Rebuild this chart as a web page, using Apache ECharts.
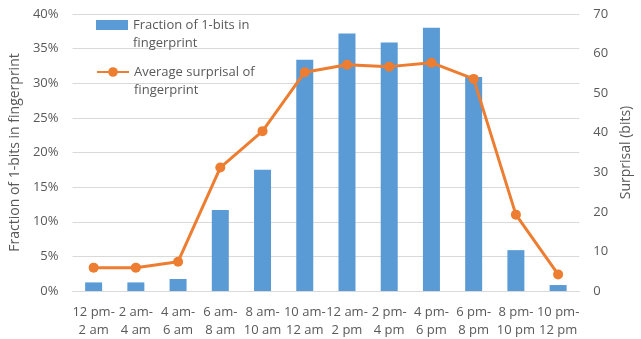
<!DOCTYPE html>
<html><head><meta charset="utf-8">
<script src="https://cdn.jsdelivr.net/npm/echarts@6/dist/echarts.min.js"></script>
<style>html,body{margin:0;padding:0;background:#fff}#c{width:641px;height:339px}</style>
</head><body><div id="c"></div>
<script>
const categories = ["12 pm-\n2 am","2 am-\n4 am","4 am-\n6 am","6 am-\n8 am","8 am-\n10 am","10 am-\n12 am","12 am-\n2 pm","2 pm-\n4 pm","4 pm-\n6 pm","6 pm-\n8 pm","8 pm-\n10 pm","10 pm-\n12 pm"];
const fractionOnes = [1.24, 1.24, 1.73, 11.7, 17.5, 33.4, 37.2, 35.9, 38.0, 30.9, 5.9, 0.86];
const surprisal = [5.9, 5.9, 7.4, 31.2, 40.4, 55.3, 57.2, 56.7, 57.7, 53.6, 19.3, 4.2];
const leftTicks = {min: 0, max: 40, interval: 5};
const rightTicks = {min: 0, max: 70, interval: 10};

const font = "'Open Sans', 'Liberation Sans', sans-serif";
const grey = '#595959';
const legendText = {color: grey, fontSize: 13, fontFamily: font, lineHeight: 18};
const chart = echarts.init(document.getElementById('c'));
chart.setOption({
  animation: false,
  textStyle: {fontFamily: font},
  grid: {left: 70, right: 59, top: 14, bottom: 47},
  legend: [{
    data: [{name: 'Fraction of 1-bits in\nfingerprint', icon: 'rect'}],
    formatter: n => ' \n' + n,
    left: 96, top: -2, padding: 0, itemWidth: 32, itemHeight: 10, itemGap: 4,
    textStyle: legendText
  }, {
    data: [{name: 'Average surprisal of\nfingerprint'}],
    formatter: n => ' \n' + n,
    left: 96, top: 45, padding: 0, itemWidth: 32, itemHeight: 12,
    textStyle: legendText
  }],
  xAxis: {
    type: 'category', data: categories,
    axisLine: {lineStyle: {color: '#d9d9d9'}},
    axisTick: {show: false},
    axisLabel: {color: grey, fontSize: 13, lineHeight: 18, margin: 12, interval: 0}
  },
  yAxis: [{
    type: 'value', min: leftTicks.min, max: leftTicks.max, interval: leftTicks.interval,
    name: 'Fraction of 1-bits in fingerprint', nameLocation: 'middle', nameGap: 42,
    nameTextStyle: {color: grey, fontSize: 14},
    axisLabel: {formatter: '{value}%', color: grey, fontSize: 13, margin: 14},
    splitLine: {lineStyle: {color: '#d9d9d9'}},
    axisLine: {show: false}, axisTick: {show: false}
  }, {
    type: 'value', min: rightTicks.min, max: rightTicks.max, interval: rightTicks.interval,
    name: 'Surprisal (bits)', nameLocation: 'middle', nameGap: 38, nameRotate: 90,
    nameTextStyle: {color: grey, fontSize: 14},
    axisLabel: {color: grey, fontSize: 13, margin: 14},
    splitLine: {show: false},
    axisLine: {show: false}, axisTick: {show: false}
  }],
  series: [{
    name: 'Fraction of 1-bits in\nfingerprint', type: 'bar', data: fractionOnes,
    barWidth: 17, itemStyle: {color: '#5b9bd5'}, yAxisIndex: 0
  }, {
    name: 'Average surprisal of\nfingerprint', type: 'line', data: surprisal, yAxisIndex: 1,
    symbol: 'circle', symbolSize: 10,
    lineStyle: {color: '#ed7d31', width: 3}, itemStyle: {color: '#ed7d31'}
  }]
});
</script></body></html>
